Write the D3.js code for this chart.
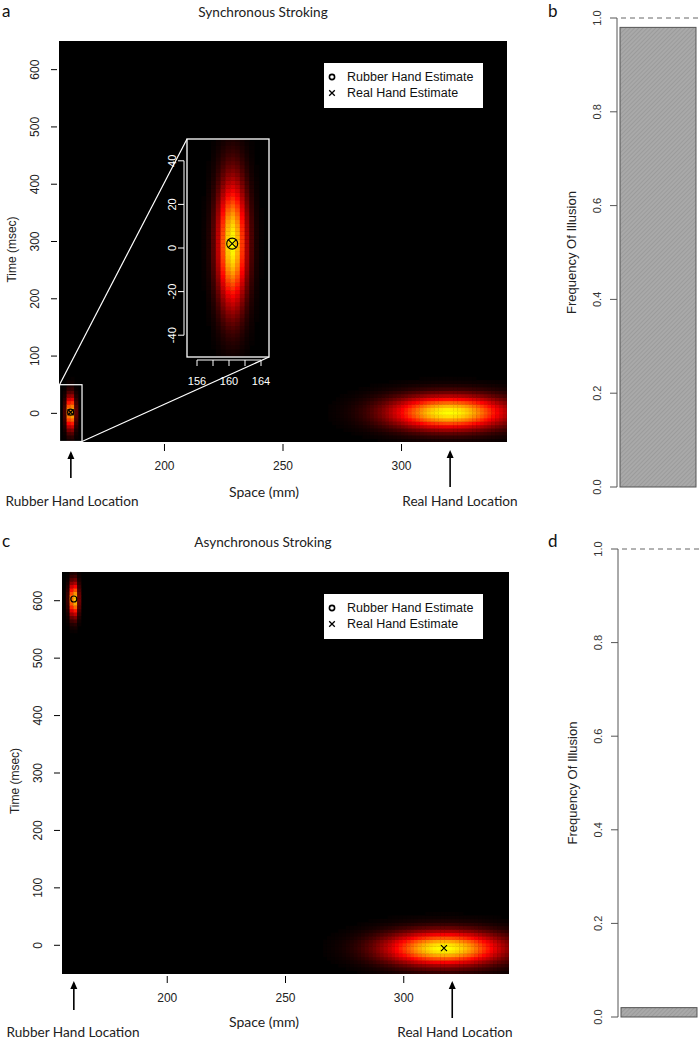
<!DOCTYPE html>
<html><head><meta charset="utf-8">
<script src="https://cdn.jsdelivr.net/npm/d3@7"></script>
<style>body{margin:0;background:#fff}svg{display:block}</style>
</head><body><svg id="c" width="700" height="1041"></svg>
<script>
// ---------- data ----------
const conditions = ["Synchronous Stroking", "Asynchronous Stroking"];
const heatLetters = ["a", "c"];
const barLetters = ["b", "d"];
const spaceTicks = [200, 250, 300];
const timeTicks = [0, 100, 200, 300, 400, 500, 600];
const spaceDomain = [155.5, 344.5];
const timeDomain = [-50, 650];
const insetSpaceDomain = [154.75, 165];
const insetTimeDomain = [-50, 50];
const insetSpaceTicks = [156, 158, 160, 162, 164];
const insetSpaceLabels = [156, 160, 164];
const insetTimeTicks = [-40, -20, 0, 20, 40];
const freqTicks = [0, 0.2, 0.4, 0.6, 0.8, 1.0];
const illusionFreq = [0.98, 0.02];
const rubberHandLocation = 160.5;
const realHandLocation = 320.5;
// posterior blobs: [space mean, time mean, space sd, time sd]
const syncBlobs = [[160.4, 2, 1.25, 20], [320, 2, 17, 20]];
const asyncBlobs = [[160.5, 603, 1.25, 20], [317, -5, 17, 20]];
// estimates: [space, time]
const syncRubberEst = [160.4, 2];
const syncRealEst = [160.4, 2];
const asyncRubberEst = [160.5, 603];
const asyncRealEst = [317, -5];
// grid resolution of the density images: [space step, time step]
const mainGrid = [1.6, 6];
const insetGrid = [0.6, 1.8];
const legendLabels = ["Rubber Hand Estimate", "Real Hand Estimate"];

// ---------- layout ----------
const svg = d3.select("#c");
const TXT = "Lato, 'Open Sans', sans-serif";
const ARIAL = "'Liberation Sans', Arial, sans-serif";
const TS = 13.6;
const color = d3.scaleLinear().domain([0, 0.5, 1]).range(["#000000", "#ff0000", "#ffff00"]).clamp(true);

const defs = svg.append("defs");
const pat = defs.append("pattern").attr("id", "hatch").attr("width", 3).attr("height", 3)
  .attr("patternUnits", "userSpaceOnUse").attr("patternTransform", "rotate(45)");
pat.append("rect").attr("width", 3).attr("height", 3).attr("fill", "#a9a9a9");
pat.append("line").attr("x1", 0).attr("y1", 0).attr("x2", 0).attr("y2", 3).attr("stroke", "#8e8e8e").attr("stroke-width", 1);

const heatPanels = [
  {top: 41, bottom: 442, left: 59, right: 507, blobs: syncBlobs, rub: syncRubberEst, real: syncRealEst,
   arrowRub: [451, 478], arrowReal: [450, 487], locY: 506, locRubX: 72, locRealX: 460, spaceY: 497, titleY: 17, inset: true},
  {top: 572, bottom: 974, left: 62, right: 509, blobs: asyncBlobs, rub: asyncRubberEst, real: asyncRealEst,
   arrowRub: [981, 1010], arrowReal: [981, 1018], locY: 1037, locRubX: 73, locRealX: 455, spaceY: 1027, titleY: 547, inset: false}
];
const barPanels = [
  {top: 18, bottom: 487, axisX: 617, barL: 620, barR: 696, letterY: 17},
  {top: 549, bottom: 1017, axisX: 618, barL: 621, barR: 697, letterY: 547}
];

function density(blobs, s, t) {
  let v = 0;
  blobs.forEach(b => {
    const d = Math.exp(-((s - b[0]) ** 2 / (2 * b[2] ** 2) + (t - b[1]) ** 2 / (2 * b[3] ** 2)));
    if (d > v) v = d;
  });
  return v;
}

function drawDensity(g, blobs, xs, ys, grid) {
  const [sd0, sd1] = xs.domain();
  const [td0, td1] = ys.domain();
  const cells = [];
  for (let s = sd0; s < sd1; s += grid[0]) {
    for (let t = td0; t < td1; t += grid[1]) {
      const v = density(blobs, s + grid[0] / 2, t + grid[1] / 2);
      if (v > 0.01) cells.push({s, t, v});
    }
  }
  g.selectAll(null).data(cells).enter().append("rect")
    .attr("x", d => xs(d.s))
    .attr("y", d => ys(d.t + grid[1]))
    .attr("width", d => xs(d.s + grid[0]) - xs(d.s) + 0.4)
    .attr("height", d => ys(d.t) - ys(d.t + grid[1]) + 0.4)
    .attr("fill", d => color(d.v));
}

function circleMark(g, x, y, r, sw) {
  g.append("circle").attr("cx", x).attr("cy", y).attr("r", r).attr("fill", "none").attr("stroke", "#000").attr("stroke-width", sw);
}
function crossMark(g, x, y, r, sw) {
  g.append("path").attr("d", `M${x - r},${y - r}L${x + r},${y + r}M${x - r},${y + r}L${x + r},${y - r}`)
    .attr("stroke", "#000").attr("stroke-width", sw).attr("fill", "none");
}
function arrowUp(g, x, y0, y1) {
  g.append("line").attr("x1", x).attr("x2", x).attr("y1", y1).attr("y2", y0 + 2).attr("stroke", "#000").attr("stroke-width", 1.6);
  g.append("path").attr("d", `M${x - 3.5},${y0 + 8}L${x},${y0}L${x + 3.5},${y0 + 8}Z`).attr("fill", "#000");
}

heatPanels.forEach((p, i) => {
  const g = svg.append("g");
  const xs = d3.scaleLinear().domain(spaceDomain).range([p.left, p.right]);
  const ys = d3.scaleLinear().domain(timeDomain).range([p.bottom, p.top]);
  const clipId = "clip" + i;
  defs.append("clipPath").attr("id", clipId).append("rect")
    .attr("x", p.left).attr("y", p.top).attr("width", p.right - p.left).attr("height", p.bottom - p.top);
  g.append("rect").attr("x", p.left).attr("y", p.top).attr("width", p.right - p.left).attr("height", p.bottom - p.top).attr("fill", "#000");
  const hg = g.append("g").attr("clip-path", `url(#${clipId})`);
  drawDensity(hg, p.blobs, xs, ys, mainGrid);

  // estimates
  circleMark(hg, xs(p.rub[0]), ys(p.rub[1]), 3, 1.2);
  crossMark(hg, xs(p.real[0]), ys(p.real[1]), 3, 1.2);

  // axes (R-style, ticks only)
  spaceTicks.forEach(v => {
    g.append("line").attr("x1", xs(v)).attr("x2", xs(v)).attr("y1", p.bottom + 2).attr("y2", p.bottom + 9).attr("stroke", "#000");
    g.append("text").attr("x", xs(v)).attr("y", p.bottom + 28).attr("text-anchor", "middle")
      .attr("font-family", ARIAL).attr("font-size", 12).attr("fill", "#222").text(v);
  });
  timeTicks.forEach(v => {
    g.append("line").attr("x1", p.left - 8).attr("x2", p.left - 2).attr("y1", ys(v)).attr("y2", ys(v)).attr("stroke", "#000");
    g.append("text").attr("transform", `translate(${p.left - 20},${ys(v)}) rotate(-90)`).attr("text-anchor", "middle")
      .attr("font-family", ARIAL).attr("font-size", 12).attr("fill", "#222").text(v);
  });
  g.append("text").attr("transform", `translate(${p.left - 43},${(p.top + p.bottom) / 2 + 8}) rotate(-90)`).attr("text-anchor", "middle")
    .attr("font-family", ARIAL).attr("font-size", 12).attr("fill", "#222").text("Time (msec)");
  g.append("text").attr("x", 264).attr("y", p.spaceY).attr("text-anchor", "middle")
    .attr("font-family", TXT).attr("font-size", 14).attr("fill", "#222").text("Space (mm)");
  g.append("text").attr("x", 263).attr("y", p.titleY).attr("text-anchor", "middle")
    .attr("font-family", TXT).attr("font-size", TS).attr("fill", "#222").text(conditions[i]);
  g.append("text").attr("x", 2).attr("y", p.titleY).attr("font-family", TXT).attr("font-size", 17).attr("fill", "#111").text(heatLetters[i]);

  // location arrows
  arrowUp(g, xs(rubberHandLocation), p.arrowRub[0], p.arrowRub[1]);
  arrowUp(g, xs(realHandLocation), p.arrowReal[0], p.arrowReal[1]);
  g.append("text").attr("x", p.locRubX).attr("y", p.locY).attr("text-anchor", "middle")
    .attr("font-family", TXT).attr("font-size", TS).attr("fill", "#222").text("Rubber Hand Location");
  g.append("text").attr("x", p.locRealX).attr("y", p.locY).attr("text-anchor", "middle")
    .attr("font-family", TXT).attr("font-size", TS).attr("fill", "#222").text("Real Hand Location");

  // legend
  const lx = 324, ly = p.top + 22;
  g.append("rect").attr("x", lx).attr("y", ly).attr("width", 159).attr("height", 45).attr("fill", "#fff");
  circleMark(g, lx + 8, ly + 14, 2.6, 1.6);
  crossMark(g, lx + 8, ly + 30, 2.8, 1.3);
  legendLabels.forEach((t, k) => {
    g.append("text").attr("x", lx + 23).attr("y", ly + 18 + k * 16).attr("font-family", ARIAL).attr("font-size", 12.5)
      .attr("fill", "#111").text(t);
  });

  if (p.inset) {
    // zoom box on the main plot
    const bx0 = xs(insetSpaceDomain[0] < spaceDomain[0] ? spaceDomain[0] : insetSpaceDomain[0]);
    const bx1 = xs(insetSpaceDomain[1]);
    const by0 = ys(insetTimeDomain[1]);
    const by1 = ys(insetTimeDomain[0]);
    g.append("rect").attr("x", bx0 + 0.5).attr("y", by0).attr("width", bx1 - bx0).attr("height", by1 - by0 - 0.5)
      .attr("fill", "none").attr("stroke", "#fff").attr("stroke-width", 1.2);

    const ix = d3.scaleLinear().domain(insetSpaceDomain).range([187, 269]);
    const iy = d3.scaleLinear().domain(insetTimeDomain).range([357, 139]);
    // connector lines
    g.append("line").attr("x1", bx0 + 0.5).attr("y1", by0).attr("x2", 187).attr("y2", 139).attr("stroke", "#fff").attr("stroke-width", 1.2);
    g.append("line").attr("x1", bx1 + 0.5).attr("y1", by1 - 0.5).attr("x2", 269).attr("y2", 357).attr("stroke", "#fff").attr("stroke-width", 1.2);

    const ig = g.append("g");
    defs.append("clipPath").attr("id", "clipInset").append("rect").attr("x", 187).attr("y", 139).attr("width", 82).attr("height", 218);
    ig.append("rect").attr("x", 187).attr("y", 139).attr("width", 82).attr("height", 218).attr("fill", "#000");
    const icg = ig.append("g").attr("clip-path", "url(#clipInset)");
    drawDensity(icg, p.blobs, ix, iy, insetGrid);
    circleMark(icg, ix(p.rub[0]), iy(p.rub[1]), 5.5, 1.1);
    crossMark(icg, ix(p.real[0]), iy(p.real[1]), 4, 1.1);
    ig.append("rect").attr("x", 187).attr("y", 139).attr("width", 82).attr("height", 218)
      .attr("fill", "none").attr("stroke", "#fff").attr("stroke-width", 1.3);
    // inset axes
    ig.append("line").attr("x1", 184).attr("x2", 184).attr("y1", iy(-40)).attr("y2", iy(40)).attr("stroke", "#fff");
    insetTimeTicks.forEach(v => {
      ig.append("line").attr("x1", 178).attr("x2", 184).attr("y1", iy(v)).attr("y2", iy(v)).attr("stroke", "#fff");
      ig.append("text").attr("transform", `translate(${176},${iy(v)}) rotate(-90)`).attr("text-anchor", "middle")
        .attr("font-family", ARIAL).attr("font-size", 11).attr("fill", "#fff").text(v);
    });
    ig.append("line").attr("x1", ix(156)).attr("x2", ix(164)).attr("y1", 360).attr("y2", 360).attr("stroke", "#fff");
    insetSpaceTicks.forEach(v => {
      ig.append("line").attr("x1", ix(v)).attr("x2", ix(v)).attr("y1", 360).attr("y2", 366).attr("stroke", "#fff");
    });
    insetSpaceLabels.forEach(v => {
      ig.append("text").attr("x", ix(v)).attr("y", 385).attr("text-anchor", "middle")
        .attr("font-family", ARIAL).attr("font-size", 11).attr("fill", "#fff").text(v);
    });
  }
});

barPanels.forEach((p, i) => {
  const g = svg.append("g");
  const ys = d3.scaleLinear().domain([0, 1]).range([p.bottom, p.top]);
  g.append("line").attr("x1", p.axisX).attr("x2", p.axisX).attr("y1", ys(0)).attr("y2", ys(1)).attr("stroke", "#555");
  freqTicks.forEach(v => {
    g.append("line").attr("x1", p.axisX - 7).attr("x2", p.axisX).attr("y1", ys(v)).attr("y2", ys(v)).attr("stroke", "#555");
    g.append("text").attr("transform", `translate(${p.axisX - 16},${ys(v)}) rotate(-90)`).attr("text-anchor", "middle")
      .attr("font-family", ARIAL).attr("font-size", 11).attr("fill", "#333").text(v.toFixed(1));
  });
  g.append("line").attr("x1", p.axisX + 4).attr("x2", 700).attr("y1", ys(1)).attr("y2", ys(1))
    .attr("stroke", "#666").attr("stroke-dasharray", "5,4");
  g.append("rect").attr("x", p.barL).attr("y", ys(illusionFreq[i])).attr("width", p.barR - p.barL)
    .attr("height", ys(0) - ys(illusionFreq[i])).attr("fill", "url(#hatch)").attr("stroke", "#555").attr("stroke-width", 1);
  g.append("text").attr("transform", `translate(${p.axisX - 41},${(p.top + p.bottom) / 2}) rotate(-90)`).attr("text-anchor", "middle")
    .attr("font-family", ARIAL).attr("font-size", 13).attr("fill", "#222").text("Frequency Of Illusion");
  g.append("text").attr("x", 548).attr("y", p.letterY).attr("font-family", TXT).attr("font-size", 17).attr("fill", "#111").text(barLetters[i]);
});
</script></body></html>
